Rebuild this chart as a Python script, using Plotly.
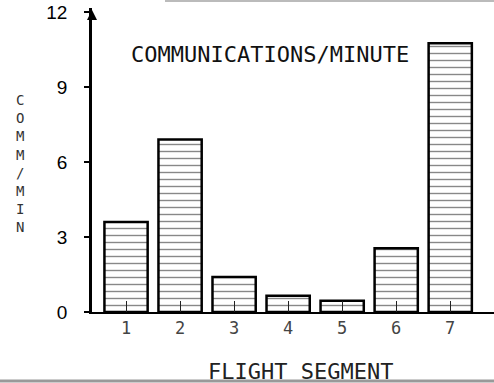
import plotly.graph_objects as go

segments = [1, 2, 3, 4, 5, 6, 7]
comm_per_min = [3.6, 6.9, 1.4, 0.65, 0.45, 2.55, 10.75]
y_ticks = [0, 3, 6, 9, 12]
title_text = "COMMUNICATIONS/MINUTE"
x_title = "FLIGHT SEGMENT"
y_title = "COMM/MIN"

fig = go.Figure()
fig.add_trace(go.Bar(
    x=segments, y=comm_per_min, width=0.8,
    marker=dict(color="white",
                line=dict(color="black", width=2.5),
                pattern=dict(shape="-", fgcolor="#111", bgcolor="white", size=7, solidity=0.2)),
    hoverinfo="skip",
))

W, H = 494, 383
L, R, T = 92, 0, 8
PH = 304
B = H - T - PH
pw, ph = W - L - R, PH

def px(x):
    return (x - L) / pw

def py(y):
    return (T + PH - y) / ph

fig.update_layout(
    width=W, height=H,
    margin=dict(l=L, r=R, t=T, b=B, pad=0),
    paper_bgcolor="white", plot_bgcolor="white",
    showlegend=False, bargap=0.2,
    xaxis=dict(range=[0.37, 7.81], tickvals=segments, ticktext=[str(s) for s in segments],
               showgrid=False, zeroline=False, showline=True, linecolor="black", linewidth=2,
               ticks="inside", ticklen=11, tickwidth=1.2, tickcolor="#222",
               tickfont=dict(family="DejaVu Sans Mono", size=17, color="#444"),
               fixedrange=True),
    yaxis=dict(range=[0, 12.16], tickvals=y_ticks, ticktext=[str(v) for v in y_ticks],
               showgrid=False, zeroline=False, showline=True, linecolor="black", linewidth=2.5,
               ticks="outside", ticklen=5, tickwidth=1.5, tickcolor="black",
               ticklabelstandoff=13, ticklabeloverflow="allow",
               tickfont=dict(family="Liberation Sans", size=19, color="black"),
               fixedrange=True),
    annotations=[
        dict(text=title_text, xref="paper", yref="paper", x=px(270), y=py(55),
             showarrow=False, font=dict(family="DejaVu Sans Mono", size=22, color="#111"),
             xanchor="center", yanchor="middle"),
        dict(text="<br>".join(list(y_title)), xref="paper", yref="paper", x=px(20), y=py(163),
             showarrow=False, font=dict(family="DejaVu Sans Mono", size=14, color="#333"),
             xanchor="center", yanchor="middle"),
        dict(text=x_title, xref="paper", yref="paper", x=px(300), y=py(371),
             showarrow=False, font=dict(family="DejaVu Sans Mono", size=22, color="#222"),
             xanchor="center", yanchor="middle"),
        dict(text="", xref="paper", yref="paper", x=0, y=py(10), ax=0, ay=10,
             showarrow=True, arrowhead=2, arrowsize=1, arrowwidth=2, arrowcolor="black"),
    ],
    shapes=[
        dict(type="line", xref="paper", yref="paper", x0=px(165), x1=px(494), y0=py(1), y1=py(1),
             line=dict(color="#bbb", width=2)),
        dict(type="line", xref="paper", yref="paper", x0=px(0), x1=px(494), y0=py(381), y1=py(381),
             line=dict(color="#999", width=3)),
    ],
)

fig.write_html("out.html", config={"displayModeBar": False},
               post_script="document.body.style.margin='0';")
